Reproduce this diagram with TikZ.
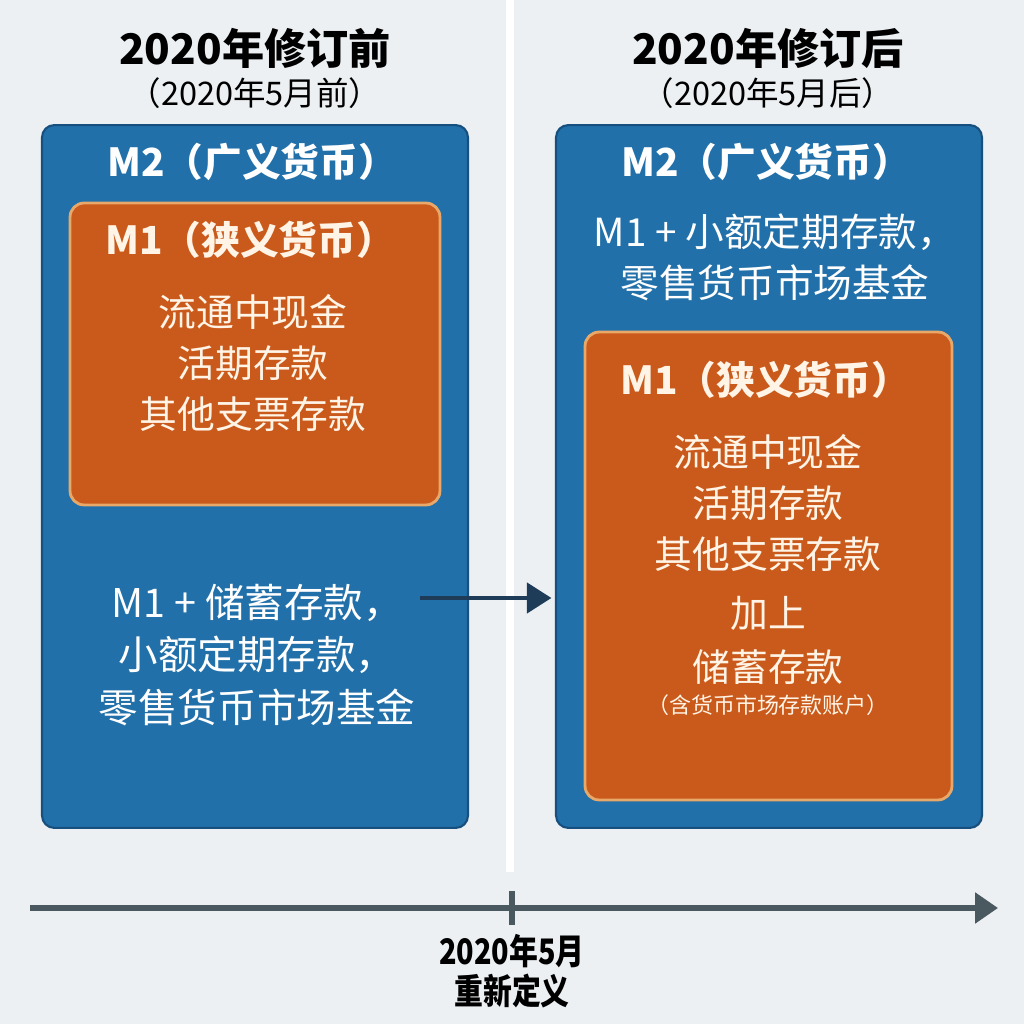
\documentclass[tikz,border=0pt]{standalone}
\usepackage{fontspec}
\setmainfont{Noto Sans CJK SC}
\usepackage{tikz}
\usetikzlibrary{positioning, arrows.meta}
\usepackage{xcolor}
\definecolor{Back}{HTML}{ECF0F2}
\definecolor{BoxBlue}{HTML}{2170A9}
\definecolor{BlueEdge}{HTML}{17507E}
\definecolor{BoxOrange}{HTML}{CA5A1B}
\definecolor{OrangeEdge}{HTML}{E8A86A}
\definecolor{Cream}{HTML}{FFF4E6}
\definecolor{Navy}{HTML}{1E3B58}
\definecolor{Axis}{HTML}{4A5860}

\tikzset{
  m2box/.style={draw=BlueEdge, line width=1.2pt, rounded corners=7pt, fill=BoxBlue,
                inner sep=0pt, minimum width=8.52cm, minimum height=14.06cm},
  m1box/.style={draw=OrangeEdge, line width=1.6pt, rounded corners=8pt, fill=BoxOrange,
                inner sep=0pt, minimum width=7.4cm},
  headline/.style={inner sep=0pt, font=\fontsize{24}{28}\selectfont\bfseries},
  subline/.style={inner sep=0pt, font=\fontsize{18.5}{21}\selectfont},
  boxhead/.style={inner sep=0pt, text=white, font=\fontsize{22}{26}\selectfont\bfseries},
  boxtext/.style={inner sep=0pt, text=Cream, align=center, font=\fontsize{21.5}{29}\selectfont},
}

\begin{document}
\begin{tikzpicture}[x=0.02cm, y=0.02cm]
    \fill[Back] (0,0) rectangle (1024,1024);
    \useasboundingbox (0,0) rectangle (1024,1024);
    \draw[white, line width=4pt] (510,1024) -- (510,152);

    % before revision
    \node[headline] (ltitle) at (255,976) {2020年修订前};
    \node[subline] (lsub) at (255,931) {（2020年5月前）};
    \node[m2box] (lbox) at (255,547.5) {};
    \node[boxhead] (lm2) at (252,862) {M2（广义货币）};
    \node[m1box, minimum height=6.04cm] (lm1box) at (255,670) {};
    \node[boxhead, text=Cream] (lm1) at (250,784) {M1（狭义货币）};
    \node[boxtext] (litems) at (253,661) {流通中现金\\活期存款\\其他支票存款};
    \node[boxtext, text=white, font=\fontsize{22.5}{30}\selectfont] (lrest) at (257,369)
        {M1 + 储蓄存款，\\小额定期存款，\\零售货币市场基金};

    % after revision
    \node[headline] (rtitle) at (768,976) {2020年修订后};
    \node[subline] (rsub) at (768,931) {（2020年5月后）};
    \node[m2box] (rbox) at (769,547.5) {};
    \node[boxhead] (rm2) at (766,862) {M2（广义货币）};
    \node[boxtext, text=white, font=\fontsize{22}{29}\selectfont] (rrest) at (775,766.5)
        {M1 + 小额定期存款，\\零售货币市场基金};
    \node[m1box, minimum width=7.34cm, minimum height=9.36cm] (rm1box) at (768.5,458) {};
    \node[boxhead, text=Cream] (rm1) at (765,644) {M1（狭义货币）};
    \node[boxtext] (ritems) at (768,521) {流通中现金\\活期存款\\其他支票存款};
    \node[boxtext] (rplus) at (768,411) {加上};
    \node[boxtext] (rsave) at (768,357) {储蓄存款};
    \node[boxtext, font=\fontsize{12.5}{15}\selectfont] (rnote) at (768,319) {（含货币市场存款账户）};

    \coordinate (shift) at (420,426);
    \draw[Navy, line width=2.8pt, -{Triangle[length=14pt, width=17pt]}, shorten >=2pt]
        (shift) -- (rbox.west |- shift);

    % timeline
    \coordinate (tstart) at (30,116);
    \coordinate (tend) at (998,116);
    \coordinate (ttop) at (512,133);
    \coordinate (tbot) at (512,99);
    \draw[Axis, line width=3pt, -{Triangle[length=13pt, width=17pt]}] (tstart) -- (tend);
    \draw[Axis, line width=3pt] (ttop) -- (tbot);
    \node[inner sep=0pt, align=center, font=\fontsize{20}{23}\selectfont\bfseries,
          below=5pt of tbot] (tlabel)
        {\scalebox{0.82}[1]{2020年5月}\\\scalebox{0.82}[1]{重新定义}};
\end{tikzpicture}
\end{document}
